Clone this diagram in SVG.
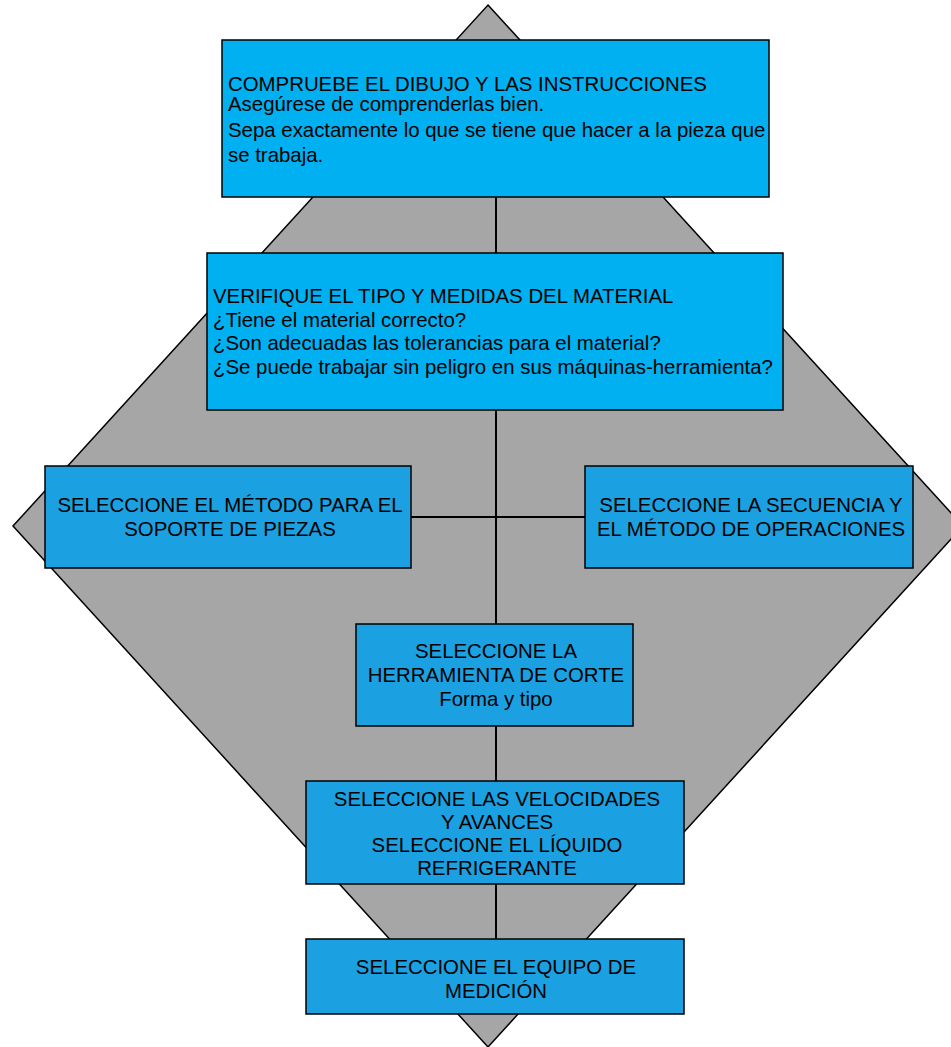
<svg xmlns="http://www.w3.org/2000/svg" width="951" height="1047" viewBox="0 0 951 1047">
  <style>
    .bg { fill: #A6A6A6; stroke: #000; stroke-width: 1.5; }
    .hdr { fill: #00B0F0; stroke: #000; stroke-width: 1.5; }
    .box { fill: #1BA1E2; stroke: #000; stroke-width: 1.5; }
    .conn { stroke: #000; stroke-width: 2; fill: none; }
    text { font-family: "Liberation Sans", Arial, sans-serif; font-size: 20.4px; fill: #000; }
    .c { text-anchor: middle; }
  </style>

  <!-- background diamond -->
  <polygon class="bg" points="488,5 963,526 488,1047 13,526"/>

  <!-- connectors -->
  <g id="connectors">
    <line class="conn" x1="496" y1="197" x2="496" y2="253"/>
    <line class="conn" x1="496" y1="410" x2="496" y2="624"/>
    <line class="conn" x1="411" y1="517" x2="585" y2="517"/>
    <line class="conn" x1="496" y1="726" x2="496" y2="781"/>
    <line class="conn" x1="496" y1="884" x2="496" y2="939"/>
  </g>

  <g id="n-dibujo">
    <rect class="hdr" x="222" y="40" width="547" height="157"/>
    <text x="228" y="91">COMPRUEBE EL DIBUJO Y LAS INSTRUCCIONES</text>
    <text x="228" y="111">Asegúrese de comprenderlas bien.</text>
    <text x="228" y="137">Sepa exactamente lo que se tiene que hacer a la pieza que</text>
    <text x="228" y="162">se trabaja.</text>
  </g>

  <g id="n-material">
    <rect class="hdr" x="207" y="253" width="576" height="157"/>
    <text x="213" y="303">VERIFIQUE EL TIPO Y MEDIDAS DEL MATERIAL</text>
    <text x="213" y="327">¿Tiene el material correcto?</text>
    <text x="213" y="350">¿Son adecuadas las tolerancias para el material?</text>
    <text x="213" y="374">¿Se puede trabajar sin peligro en sus máquinas-herramienta?</text>
  </g>

  <g id="n-soporte">
    <rect class="box" x="45" y="466" width="366" height="102"/>
    <text class="c" x="230" y="512">SELECCIONE EL MÉTODO PARA EL</text>
    <text class="c" x="230" y="536">SOPORTE DE PIEZAS</text>
  </g>

  <g id="n-secuencia">
    <rect class="box" x="585" y="466" width="328" height="102"/>
    <text class="c" x="751" y="512">SELECCIONE LA SECUENCIA Y</text>
    <text class="c" x="751" y="536">EL MÉTODO DE OPERACIONES</text>
  </g>

  <g id="n-herramienta">
    <rect class="box" x="356" y="624" width="277" height="102"/>
    <text class="c" x="496" y="658">SELECCIONE LA</text>
    <text class="c" x="496" y="682">HERRAMIENTA DE CORTE</text>
    <text class="c" x="496" y="706">Forma y tipo</text>
  </g>

  <g id="n-velocidades">
    <rect class="box" x="306" y="781" width="378" height="103"/>
    <text class="c" x="497" y="806">SELECCIONE LAS VELOCIDADES</text>
    <text class="c" x="497" y="829">Y AVANCES</text>
    <text class="c" x="497" y="852">SELECCIONE EL LÍQUIDO</text>
    <text class="c" x="497" y="875">REFRIGERANTE</text>
  </g>

  <g id="n-medicion">
    <rect class="box" x="306" y="939" width="378" height="75"/>
    <text class="c" x="496" y="974">SELECCIONE EL EQUIPO DE</text>
    <text class="c" x="496" y="998">MEDICIÓN</text>
  </g>
</svg>
